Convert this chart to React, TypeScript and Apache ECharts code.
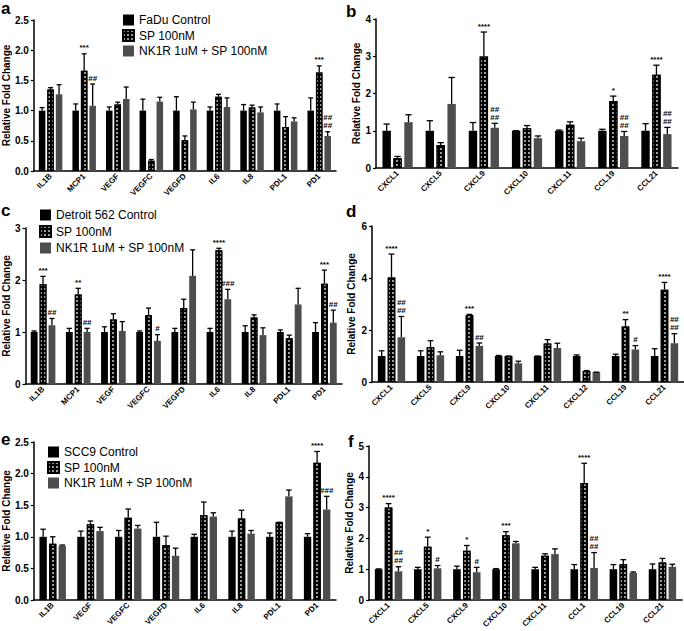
import React, { useEffect, useRef } from "react";
import * as echarts from "echarts";

// ---------- Panel a (FaDu) ----------
const catsA = ["IL1B", "MCP1", "VEGF", "VEGFC", "VEGFD", "IL6", "IL8", "PDL1", "PD1"];
const ctrlA = [1, 1, 1, 1, 1, 1, 1, 1, 1];
const ctrlErrA = [1.05, 1.11, 1.06, 1.19, 1.23, 1.06, 1.1, 1.11, 1.21];
const spA = [1.35, 1.66, 1.1, 0.17, 0.51, 1.23, 1.05, 0.73, 1.63];
const spErrA = [1.38, 1.94, 1.14, 0.19, 0.58, 1.27, 1.09, 0.9, 1.74];
const nkA = [1.27, 1.08, 1.19, 1.15, 1.02, 1.06, 0.97, 0.82, 0.58];
const nkErrA = [1.43, 1.44, 1.39, 1.22, 1.14, 1.21, 1.06, 0.88, 0.65];
const sigSpA = ["", "***", "", "", "", "", "", "", "***"];
const sigNkA = ["", "##", "", "", "", "", "", "", "##\n##"];

// ---------- Panel b (FaDu chemokines) ----------
const catsB = ["CXCL1", "CXCL5", "CXCL9", "CXCL10", "CXCL11", "CCL19", "CCL21"];
const ctrlB = [1, 1, 1, 1, 1, 1, 1];
const ctrlErrB = [1.18, 1.27, 1.22, 1.0, 1.02, 1.04, 1.19];
const spB = [0.26, 0.62, 2.99, 1.07, 1.16, 1.8, 2.5];
const spErrB = [0.31, 0.68, 3.65, 1.14, 1.24, 1.93, 2.76];
const nkB = [1.23, 1.72, 1.08, 0.8, 0.72, 0.86, 0.91];
const nkErrB = [1.43, 2.43, 1.2, 0.86, 0.8, 0.98, 1.09];
const sigSpB = ["", "", "****", "", "", "*", "****"];
const sigNkB = ["", "", "##\n##", "", "", "##\n##", "##\n##"];

// ---------- Panel c (Detroit 562) ----------
const catsC = ["IL1B", "MCP1", "VEGF", "VEGFC", "VEGFD", "IL6", "IL8", "PDL1", "PD1"];
const ctrlC = [1, 1, 1, 1, 1, 1, 1, 1, 1];
const ctrlErrC = [1.02, 1.07, 1.1, 1.02, 1.07, 1.07, 1.12, 1.04, 1.18];
const spC = [1.92, 1.72, 1.24, 1.32, 1.46, 2.57, 1.28, 0.88, 1.93];
const spErrC = [2.07, 1.84, 1.35, 1.46, 1.63, 2.61, 1.33, 0.94, 2.19];
const nkC = [1.13, 1.0, 1.02, 0.83, 2.08, 1.63, 0.94, 1.53, 1.18];
const nkErrC = [1.26, 1.07, 1.2, 0.95, 2.58, 1.82, 1.08, 1.84, 1.42];
const sigSpC = ["***", "**", "", "", "", "****", "", "", "***"];
const sigNkC = ["##", "##", "", "#", "", "###", "", "", "##"];

// ---------- Panel d (Detroit 562 chemokines) ----------
const catsD = ["CXCL1", "CXCL5", "CXCL9", "CXCL10", "CXCL11", "CXCL12", "CCL19", "CCL21"];
const ctrlD = [1, 1, 1, 1, 1, 1, 1, 1];
const ctrlErrD = [1.2, 1.2, 1.22, 1.02, 1.0, 1.04, 1.07, 1.28];
const spD = [4.02, 1.34, 2.58, 1.0, 1.48, 0.42, 2.13, 3.55];
const spErrD = [4.92, 1.59, 2.6, 1.0, 1.63, 0.44, 2.4, 3.83];
const nkD = [1.72, 1.03, 1.39, 0.72, 1.31, 0.38, 1.25, 1.49];
const nkErrD = [2.52, 1.16, 1.5, 0.8, 1.49, 0.38, 1.4, 1.86];
const sigSpD = ["****", "", "***", "", "", "", "**", "****"];
const sigNkD = ["##\n##", "", "##", "", "", "", "#", "##\n##"];

// ---------- Panel e (SCC9) ----------
const catsE = ["IL1B", "VEGF", "VEGFC", "VEGFD", "IL6", "IL8", "PDL1", "PD1"];
const ctrlE = [1, 1, 1, 1, 1, 1, 1, 1];
const ctrlErrE = [1.12, 1.09, 1.1, 1.23, 1.04, 1.09, 1.06, 1.05];
const spE = [0.89, 1.2, 1.3, 0.87, 1.34, 1.29, 1.23, 2.17];
const spErrE = [1.0, 1.25, 1.44, 1.01, 1.55, 1.42, 1.23, 2.35];
const nkE = [0.86, 1.09, 1.13, 0.7, 1.32, 1.05, 1.64, 1.43];
const nkErrE = [0.87, 1.15, 1.18, 0.82, 1.38, 1.1, 1.74, 1.64];
const sigSpE = ["", "", "", "", "", "", "", "****"];
const sigNkE = ["", "", "", "", "", "", "", "###"];

// ---------- Panel f (SCC9 chemokines) ----------
const catsF = ["CXCL1", "CXCL5", "CXCL9", "CXCL10", "CXCL11", "CCL1", "CCL19", "CCL21"];
const ctrlF = [1, 1, 1, 1, 1, 1, 1, 1];
const ctrlErrF = [1.01, 1.06, 1.1, 1.02, 1.06, 1.15, 1.15, 1.17];
const spF = [3.0, 1.73, 1.6, 2.1, 1.44, 3.8, 1.16, 1.22];
const spErrF = [3.13, 2.04, 1.77, 2.22, 1.5, 4.44, 1.31, 1.35];
const nkF = [0.93, 1.03, 0.9, 1.84, 1.49, 1.04, 0.88, 1.08];
const nkErrF = [1.08, 1.12, 1.06, 1.9, 1.66, 1.54, 0.91, 1.16];
const sigSpF = ["****", "*", "*", "***", "", "****", "", ""];
const sigNkF = ["##\n##", "#", "#", "", "", "##\n##", "", ""];

const spName = "SP 100nM";
const nkName = "NK1R 1uM + SP 100nM";

const FONT = "Liberation Sans, Arial, Helvetica, sans-serif";
const CAT_GAP = 0.3;
const BAR_GAP = 0.3;

type Panel = {
  letter: string;
  ctrlName: string;
  cats: string[];
  ctrl: number[];
  ctrlErr: number[];
  sp: number[];
  spErr: number[];
  nk: number[];
  nkErr: number[];
  sigSp: string[];
  sigNk: string[];
  yMax: number;
  yInt: number;
  decimals: number;
  grid: { left: number; top: number; width: number; height: number };
  nameGap: number;
  legend?: { left: number; top: number; gap: number };
  letterPos: [number, number];
};

const panels: Panel[] = [
  {
    letter: "a", ctrlName: "FaDu Control", cats: catsA, ctrl: ctrlA, ctrlErr: ctrlErrA, sp: spA, spErr: spErrA,
    nk: nkA, nkErr: nkErrA, sigSp: sigSpA, sigNk: sigNkA, yMax: 2.5, yInt: 0.5, decimals: 1,
    grid: { left: 31, top: 20, width: 305, height: 151 }, nameGap: 16,
    legend: { left: 122, top: 14, gap: 3 }, letterPos: [1, 0],
  },
  {
    letter: "b", ctrlName: "FaDu Control", cats: catsB, ctrl: ctrlB, ctrlErr: ctrlErrB, sp: spB, spErr: spErrB,
    nk: nkB, nkErr: nkErrB, sigSp: sigSpB, sigNk: sigNkB, yMax: 4, yInt: 1, decimals: 0,
    grid: { left: 376, top: 19, width: 302, height: 149 }, nameGap: 11, letterPos: [346, 3],
  },
  {
    letter: "c", ctrlName: "Detroit 562 Control", cats: catsC, ctrl: ctrlC, ctrlErr: ctrlErrC, sp: spC, spErr: spErrC,
    nk: nkC, nkErr: nkErrC, sigSp: sigSpC, sigNk: sigNkC, yMax: 3, yInt: 1, decimals: 0,
    grid: { left: 24, top: 228, width: 318, height: 156 }, nameGap: 12,
    legend: { left: 39, top: 209, gap: 4 }, letterPos: [1, 202],
  },
  {
    letter: "d", ctrlName: "Detroit 562 Control", cats: catsD, ctrl: ctrlD, ctrlErr: ctrlErrD, sp: spD, spErr: spErrD,
    nk: nkD, nkErr: nkErrD, sigSp: sigSpD, sigNk: sigNkD, yMax: 6, yInt: 2, decimals: 0,
    grid: { left: 372, top: 226, width: 312, height: 156 }, nameGap: 16, letterPos: [346, 203],
  },
  {
    letter: "e", ctrlName: "SCC9 Control", cats: catsE, ctrl: ctrlE, ctrlErr: ctrlErrE, sp: spE, spErr: spErrE,
    nk: nkE, nkErr: nkErrE, sigSp: sigSpE, sigNk: sigNkE, yMax: 2.5, yInt: 0.5, decimals: 1,
    grid: { left: 31, top: 442, width: 305, height: 158 }, nameGap: 20,
    legend: { left: 47, top: 446, gap: 3 }, letterPos: [1, 431],
  },
  {
    letter: "f", ctrlName: "SCC9 Control", cats: catsF, ctrl: ctrlF, ctrlErr: ctrlErrF, sp: spF, spErr: spErrF,
    nk: nkF, nkErr: nkErrF, sigSp: sigSpF, sigNk: sigNkF, yMax: 5, yInt: 1, decimals: 0,
    grid: { left: 369, top: 446, width: 313, height: 154 }, nameGap: 14, letterPos: [348, 433],
  },
];

const spDecal = {
  symbol: "rect",
  symbolSize: 0.8,
  color: "#ffffff",
  backgroundColor: "#000000",
  dashArrayX: [2, 2],
  dashArrayY: [2, 1.2],
  rotation: 0,
};

function buildOption() {
  const grids: any[] = [];
  const xAxes: any[] = [];
  const yAxes: any[] = [];
  const series: any[] = [];
  const legends: any[] = [];
  const graphics: any[] = [];

  panels.forEach((p, i) => {
    grids.push({ ...p.grid, containLabel: false });
    xAxes.push({
      type: "category",
      gridIndex: i,
      data: p.cats,
      axisLine: { lineStyle: { color: "#000", width: 1.5 } },
      axisTick: { alignWithLabel: true, length: 3, lineStyle: { color: "#000", width: 1.2 } },
      axisLabel: {
        rotate: 45, interval: 0, fontSize: 8, fontWeight: "bold", color: "#000",
        fontFamily: FONT, margin: 4,
      },
    });
    yAxes.push({
      type: "value",
      gridIndex: i,
      min: 0,
      max: p.yMax,
      interval: p.yInt,
      name: "Relative Fold Change",
      nameLocation: "middle",
      nameGap: p.nameGap,
      nameTextStyle: { fontSize: 10, fontWeight: "bold", color: "#000", fontFamily: FONT },
      splitLine: { show: false },
      axisLine: { show: true, lineStyle: { color: "#000", width: 1.5 } },
      axisTick: { show: true, length: 3, lineStyle: { color: "#000", width: 1.2 } },
      axisLabel: {
        fontSize: 10, fontWeight: "bold", color: "#000", fontFamily: FONT, margin: 5,
        formatter: (v: number) => v.toFixed(p.decimals),
      },
    });

    const common = {
      type: "bar",
      xAxisIndex: i,
      yAxisIndex: i,
      barCategoryGap: `${CAT_GAP * 100}%`,
      barGap: `${BAR_GAP * 100}%`,
    };
    series.push({
      ...common,
      name: p.ctrlName,
      data: p.ctrl,
      itemStyle: { color: "#000" },
    });
    series.push({
      ...common,
      name: spName,
      data: p.sp,
      itemStyle: { color: "#000", decal: spDecal, borderColor: "#000", borderWidth: 1.2 },
    });
    series.push({
      ...common,
      name: nkName,
      data: p.nk,
      itemStyle: { color: "#4d4d4d" },
    });

    const errData: number[][] = [];
    const labels: string[] = [];
    p.cats.forEach((_, c) => {
      errData.push([c, 0, p.ctrl[c], p.ctrlErr[c]]);
      labels.push("");
      errData.push([c, 1, p.sp[c], p.spErr[c]]);
      labels.push(p.sigSp[c]);
      errData.push([c, 2, p.nk[c], p.nkErr[c]]);
      labels.push(p.sigNk[c]);
    });

    series.push({
      type: "custom",
      name: "err" + p.letter,
      xAxisIndex: i,
      yAxisIndex: i,
      z: 5,
      clip: false,
      data: errData,
      renderItem: (params: any, api: any) => {
        const cat = api.value(0);
        const s = api.value(1);
        const v = api.value(2);
        const e = api.value(3);
        const band = api.size([1, 0])[0];
        const usable = band * (1 - CAT_GAP);
        const bw = usable / (3 + 2 * BAR_GAP);
        const center = api.coord([cat, 0]);
        const x = center[0] - usable / 2 + s * bw * (1 + BAR_GAP) + bw / 2;
        const yv = api.coord([cat, v])[1];
        const ye = api.coord([cat, e])[1];
        const cw = bw * 0.75;
        const children: any[] = [
          {
            type: "line",
            shape: { x1: x, y1: yv, x2: x, y2: ye },
            style: { stroke: "#000", lineWidth: 1.3 },
          },
          {
            type: "line",
            shape: { x1: x - cw / 2, y1: ye, x2: x + cw / 2, y2: ye },
            style: { stroke: "#000", lineWidth: 1.3 },
          },
        ];
        const lab = labels[params.dataIndex];
        if (lab) {
          children.push({
            type: "text",
            x: x,
            y: ye - 2,
            style: {
              text: lab,
              fill: "#000",
              font: `bold 8px ${FONT}`,
              align: "center",
              verticalAlign: "bottom",
              lineHeight: 8,
            },
          });
        }
        return { type: "group", children };
      },
    });

    if (p.legend) {
      legends.push({
        orient: "vertical",
        left: p.legend.left,
        top: p.legend.top,
        itemWidth: 11,
        itemHeight: 11,
        itemGap: p.legend.gap,
        padding: 0,
        icon: "rect",
        selectedMode: false,
        data: [p.ctrlName, spName, nkName],
        textStyle: { fontSize: 12, color: "#000", fontFamily: FONT, padding: [0, 0, 0, 0] },
      });
    }

    graphics.push({
      type: "text",
      left: p.letterPos[0],
      top: p.letterPos[1],
      style: { text: p.letter, fill: "#000", font: `bold 17px ${FONT}` },
    });
  });

  return {
    animation: false,
    backgroundColor: "#fff",
    grid: grids,
    xAxis: xAxes,
    yAxis: yAxes,
    legend: legends,
    series,
    graphic: graphics,
  };
}

export default function App() {
  const ref = useRef<HTMLDivElement>(null);
  useEffect(() => {
    if (!ref.current) return;
    const chart = echarts.init(ref.current, undefined, { renderer: "svg" });
    chart.setOption(buildOption() as any);
    return () => chart.dispose();
  }, []);
  return (
    <div
      ref={ref}
      style={{ position: "absolute", left: 0, top: 0, width: 684, height: 631, background: "#fff" }}
    />
  );
}
